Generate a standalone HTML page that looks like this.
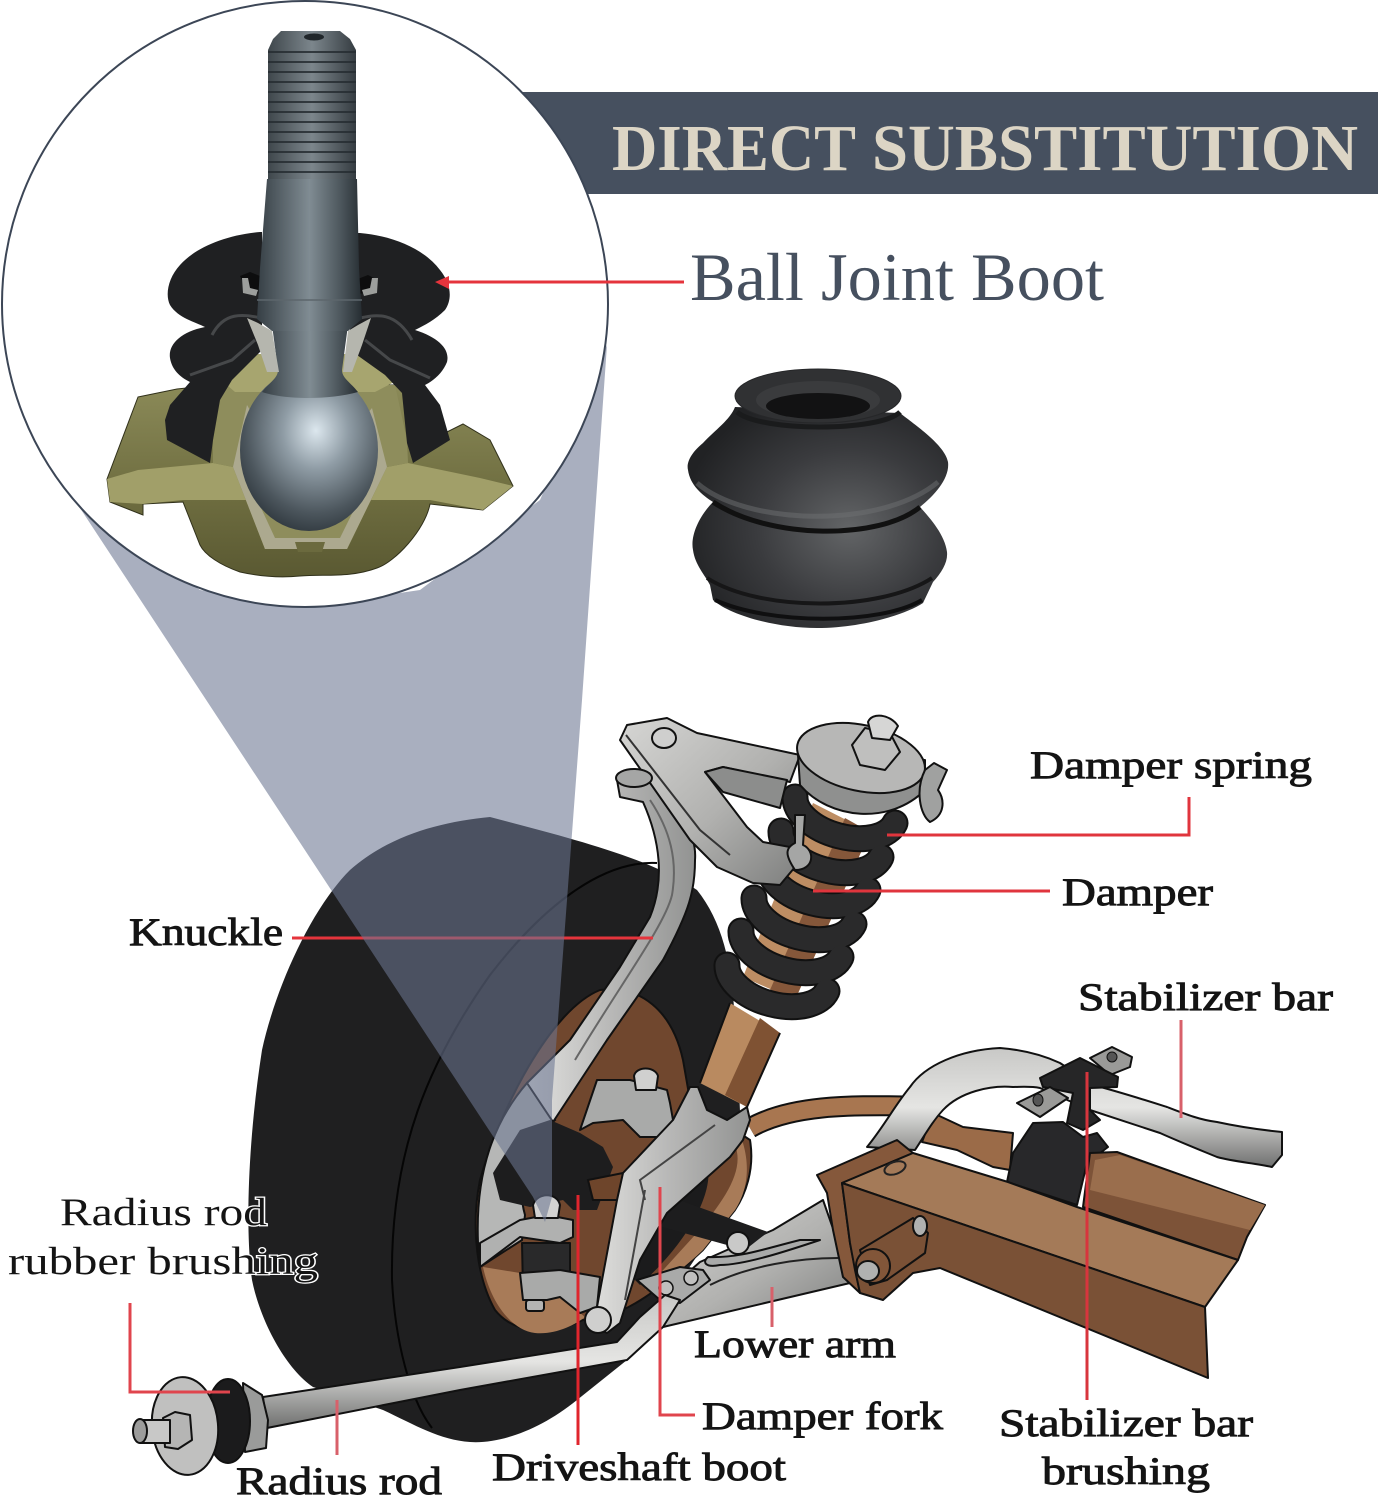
<!DOCTYPE html>
<html><head><meta charset="utf-8"><style>
html,body{margin:0;padding:0;background:#fff}
svg{display:block}
text{font-family:"Liberation Serif",serif}
.l{font-size:39px;fill:#141414;stroke:#141414;stroke-width:.9}
.h{font-size:39px;fill:#141414;stroke:#fff;stroke-width:2.5;paint-order:stroke}
.o{stroke:#111;stroke-width:2;stroke-linejoin:round}
</style></head><body>
<svg width="1378" height="1500" viewBox="0 0 1378 1500" xmlns="http://www.w3.org/2000/svg">
<defs>
<linearGradient id="st" x1="0" x2="1" y1="0" y2="0"><stop offset="0" stop-color="#363f45"/><stop offset=".5" stop-color="#808c93"/><stop offset=".8" stop-color="#4c565c"/><stop offset="1" stop-color="#262d32"/></linearGradient>
<linearGradient id="th" x1="0" x2="1" y1="0" y2="0"><stop offset="0" stop-color="#3f474c"/><stop offset=".5" stop-color="#7c868c"/><stop offset="1" stop-color="#353c41"/></linearGradient>
<radialGradient id="ball" cx=".55" cy=".38" r=".68"><stop offset="0" stop-color="#dce7ee"/><stop offset=".35" stop-color="#8f9ca5"/><stop offset=".75" stop-color="#4c565d"/><stop offset="1" stop-color="#2a3238"/></radialGradient>
<radialGradient id="boot" cx=".62" cy=".55" r=".65"><stop offset="0" stop-color="#636567"/><stop offset=".55" stop-color="#3a3b3e"/><stop offset="1" stop-color="#212224"/></radialGradient>
<linearGradient id="gold" x1="0" x2="0" y1="0" y2="1"><stop offset="0" stop-color="#8b8a58"/><stop offset=".6" stop-color="#6d6c3f"/><stop offset="1" stop-color="#5a5932"/></linearGradient>
<linearGradient id="sil" x1="0" x2="1" y1="0" y2="1"><stop offset="0" stop-color="#d6d6d4"/><stop offset=".55" stop-color="#b1b1af"/><stop offset="1" stop-color="#7e7f7e"/></linearGradient>
<linearGradient id="silv" x1="0" x2="1" y1="0" y2="0"><stop offset="0" stop-color="#e2e2e0"/><stop offset=".5" stop-color="#b8b8b7"/><stop offset="1" stop-color="#929392"/></linearGradient>
<linearGradient id="rod" x1="0" x2="0" y1="0" y2="1"><stop offset="0" stop-color="#c8c8c6"/><stop offset=".5" stop-color="#e5e5e3"/><stop offset="1" stop-color="#6f706f"/></linearGradient>
</defs>
<rect width="1378" height="1500" fill="#fff"/>

<!-- banner -->
<polygon points="522,92 1378,92 1378,194 587,194" fill="#46505f"/>
<text x="612" y="170" font-size="66" font-weight="bold" fill="#dcd5c5" textLength="244" lengthAdjust="spacingAndGlyphs">DIRECT</text>
<text x="872" y="170" font-size="66" font-weight="bold" fill="#dcd5c5" textLength="486" lengthAdjust="spacingAndGlyphs">SUBSTITUTION</text>

<!-- wheel -->
<path d="M490,817 C570,838 650,858 697,890 C725,925 735,975 735,1040 C740,1100 745,1160 735,1210 L703,1247 L627,1360 L577,1400 C540,1430 500,1444 470,1442 C440,1440 415,1425 383,1410 L313,1387 C285,1368 260,1320 252,1280 C245,1230 248,1140 262,1050 C275,990 310,910 350,870 C390,835 440,822 490,817Z" fill="#1f1f20"/>
<path d="M657,863 C600,860 540,910 490,975 C430,1060 390,1150 392,1280 C395,1340 410,1400 432,1428" fill="none" stroke="#050505" stroke-width="2"/>

<!-- hub -->
<path d="M600,990 C640,985 672,1010 683,1060 L690,1100 L750,1140 C755,1170 745,1195 735,1210 L703,1250 C660,1290 620,1320 583,1320 C550,1335 515,1335 495,1310 C478,1280 470,1230 480,1180 C500,1110 550,1010 600,990Z" fill="#70472e" stroke="#111" stroke-width="2"/>
<path d="M742,1140 C752,1170 745,1195 735,1210 L703,1250 C680,1272 660,1285 645,1290 L695,1235 C725,1200 745,1170 735,1145Z" fill="#a87b58"/>
<path d="M707,1163 C715,1190 690,1240 640,1285 L625,1270 L660,1190Z" fill="#1b1b1c"/>
<path d="M483,1267 C490,1300 510,1330 535,1333 C555,1335 575,1325 585,1317 L560,1297 L525,1300 L520,1273Z" fill="#a87b58"/>

<!-- silver rim -->
<path d="M527,1083 C495,1120 475,1170 478,1243 L480,1267 L522,1240 L525,1215 C515,1180 530,1140 555,1120Z" fill="#b6b7b6" stroke="#111" stroke-width="2"/>

<!-- knuckle -->
<path class="o" d="M617,780 C620,770 640,768 650,783 C680,805 697,835 695,860 C695,890 690,910 663,960 L607,1040 L553,1122 L527,1083 L570,1040 L620,967 L650,917 C665,880 660,840 643,802 L620,797Z" fill="url(#silv)"/>
<path d="M650,800 C670,830 678,860 672,895 C665,925 620,985 575,1060" fill="none" stroke="#666" stroke-width="2"/>

<!-- damper column -->
<polygon points="730,1003 780,1033 747,1107 700,1083" fill="#b98a60"/>
<polygon points="760,1018 780,1033 747,1107 725,1095" fill="#7f5233"/>
<path d="M730,1003 L700,1083 M780,1033 L747,1107" stroke="#111" stroke-width="2" fill="none"/>
<polygon points="813,803 870,832 795,1000 743,977" fill="#bd8d63"/>
<polygon points="845,818 870,832 795,1000 770,990" fill="#85573a"/>

<!-- spring -->
<g fill="none" stroke-linecap="round">
<g stroke="#111" stroke-width="27">
<path d="M795,797 A52 30 15 0 0 895,823"/>
<path d="M781,831 A52 30 15 0 0 881,857"/>
<path d="M768,864 A52 30 15 0 0 868,890"/>
<path d="M754,898 A52 30 15 0 0 854,924"/>
<path d="M741,931 A52 30 15 0 0 841,957"/>
<path d="M727,965 A52 30 15 0 0 827,991"/>
</g>
<g stroke="#2a2a2b" stroke-width="23">
<path d="M795,797 A52 30 15 0 0 895,823"/>
<path d="M781,831 A52 30 15 0 0 881,857"/>
<path d="M768,864 A52 30 15 0 0 868,890"/>
<path d="M754,898 A52 30 15 0 0 854,924"/>
<path d="M741,931 A52 30 15 0 0 841,957"/>
<path d="M727,965 A52 30 15 0 0 827,991"/>
</g>
</g>

<!-- upper arm -->
<path class="o" d="M620,740 L627,725 L667,718 L697,733 L800,755 L790,782 L723,767 L705,772 L747,827 L763,842 L790,847 L795,867 L780,885 L753,883 L717,867 L690,840Z" fill="url(#sil)"/>
<path d="M705,772 L723,792 L780,808 L787,780 L723,767Z" fill="#8c8d8c" class="o"/>
<path d="M626,735 L700,830 L730,855" fill="none" stroke="#333" stroke-width="2"/>
<ellipse cx="664" cy="738" rx="12" ry="10" fill="#cfcfce" stroke="#111" stroke-width="2"/>
<ellipse cx="634" cy="778" rx="18" ry="9" fill="#a5a6a5" stroke="#111" stroke-width="2"/>
<!-- bolt -->
<path class="o" d="M795,815 L805,815 L803,845 C815,850 815,870 795,870 C785,855 785,848 795,843Z" fill="#a5a6a5"/>
<!-- top mount -->
<path class="o" d="M798,755 L800,785 C830,820 890,825 925,790 L925,760Z" fill="#8f908f"/>
<ellipse cx="861" cy="758" rx="65" ry="33" transform="rotate(12 861 758)" fill="#b7b7b6" stroke="#111" stroke-width="2"/>
<path class="o" d="M852,745 L865,728 L890,733 L900,752 L885,770 L860,765Z" fill="#bfbfbe"/>
<path class="o" d="M868,722 C872,712 890,714 898,726 L890,740 L872,738Z" fill="#d6d6d5"/>
<path class="o" d="M925,770 L934,763 L947,770 L938,790 C945,800 945,815 930,822 C920,815 915,790 925,770Z" fill="#a0a1a0"/>

<!-- pipe -->
<path d="M750,1128 C790,1105 850,1105 905,1106" fill="none" stroke="#111" stroke-width="21"/>
<path d="M750,1128 C790,1105 850,1105 905,1106" fill="none" stroke="#a87650" stroke-width="17"/>

<!-- copper rod -->
<path class="o" d="M933,1113 L963,1127 L1013,1133 L1010,1170 L993,1167 L957,1150 L922,1142Z" fill="#9b6b48"/>
<!-- stabilizer bar -->
<path class="o" d="M867,1147 C885,1125 895,1105 910,1087 C925,1065 960,1050 1000,1048 C1025,1050 1045,1056 1060,1063 L1093,1085 C1120,1092 1145,1100 1167,1107 C1185,1114 1200,1120 1217,1122 C1240,1127 1262,1130 1282,1132 L1282,1155 L1272,1167 C1255,1163 1235,1162 1217,1157 C1200,1150 1180,1142 1160,1133 L1090,1110 L1040,1088 C1030,1086 1020,1087 1013,1087 C990,1085 960,1092 943,1110 C932,1122 925,1135 915,1150Z" fill="url(#rod)"/>
<!-- bush -->
<path class="o" d="M1013,1153 L1033,1123 L1063,1122 L1083,1137 L1097,1133 L1108,1147 L1087,1163 L1077,1205 L1007,1182Z" fill="#28282a"/>
<!-- bracket -->
<path class="o" d="M1090,1058 L1112,1047 L1132,1057 L1130,1067 L1110,1075Z" fill="#9a9a98"/>
<path class="o" d="M1040,1078 L1080,1058 L1118,1077 L1117,1087 L1090,1088 L1090,1110 L1100,1120 L1083,1130 L1067,1123 L1073,1093 L1043,1087Z" fill="#262627"/>
<path class="o" d="M1017,1103 L1050,1087 L1068,1098 L1040,1117Z" fill="#9a9a98"/>
<ellipse cx="1038" cy="1100" rx="5" ry="6" fill="#555" stroke="#111"/>
<ellipse cx="1112" cy="1057" rx="5" ry="5" fill="#555" stroke="#111"/>

<!-- lower arm -->
<path class="o" d="M663,1327 L850,1283 L845,1255 L837,1240 L823,1200 L773,1230 L727,1250 L700,1262 L660,1297Z" fill="url(#sil)"/>
<path d="M710,1285 C750,1265 800,1258 838,1258" fill="none" stroke="#222" stroke-width="2"/>
<path class="o" d="M708,1257 C740,1258 760,1250 800,1240 L820,1240 C790,1250 745,1265 720,1265 C705,1268 702,1262 708,1257Z" fill="#a9aaa9"/>
<!-- tie bar -->
<polygon points="665,1195 768,1232 745,1250 655,1225" fill="#1d1d1e"/>
<circle cx="738" cy="1243" r="11" fill="#c9c9c8" stroke="#111" stroke-width="2"/>
<path class="o" d="M637,1280 L680,1267 L703,1270 L710,1280 L680,1303 L660,1300Z" fill="#a9aaa9"/>
<circle cx="666" cy="1288" r="7" fill="#c0c0bf" stroke="#111" stroke-width="1.5"/>
<circle cx="691" cy="1278" r="7" fill="#c0c0bf" stroke="#111" stroke-width="1.5"/>

<!-- upper small arm -->
<path class="o" d="M580,1130 L597,1080 L630,1080 L667,1090 L670,1103 L673,1120 L667,1137 L640,1137 L623,1120 L593,1123Z" fill="#a9aaa9"/>
<path class="o" d="M634,1076 C636,1066 655,1066 658,1076 L656,1090 L636,1090Z" fill="#d0d0cf"/>

<!-- boot -->
<path d="M550,1120 L580,1133 L603,1147 L613,1167 L597,1210 L573,1210 L563,1200 L530,1207 L500,1200 L493,1173 L520,1130Z" fill="#1d1d1e"/>
<path d="M588,1180 L623,1173 L620,1200 L593,1200Z" fill="#6e452b" stroke="#111" stroke-width="2"/>
<!-- lower bracket -->
<path class="o" d="M522,1243 L570,1243 L570,1290 L523,1290Z" fill="#29292a"/>
<path class="o" d="M480,1243 L520,1220 L547,1215 L573,1220 L573,1237 L560,1243 L520,1237 L480,1267Z" fill="#b0b1b0"/>
<path class="o" d="M520,1273 L560,1270 L600,1277 L597,1307 L580,1313 L560,1297 L547,1300 L523,1300Z" fill="#a9aaa9"/>
<rect x="526" y="1300" width="18" height="11" rx="3" fill="#b4b4b3" stroke="#111" stroke-width="2"/>
<path class="o" d="M533,1205 C537,1192 557,1192 560,1205 L558,1218 L535,1218Z" fill="#d3d3d2"/>

<!-- radius rod -->
<path class="o" d="M263,1397 L460,1367 L617,1342 L640,1317 L665,1295 L680,1300 L663,1327 L627,1360 L460,1390 L267,1428Z" fill="url(#rod)"/>

<!-- damper fork -->
<path class="o" d="M690,1087 L698,1087 L707,1110 L727,1120 L747,1107 L750,1120 L743,1140 L730,1157 L667,1213 L640,1260 L620,1323 L607,1333 L587,1323 L597,1307 L617,1200 L623,1173 L673,1120Z" fill="url(#silv)"/>
<path d="M645,1200 L640,1180 L715,1125 M645,1190 L625,1300" fill="none" stroke="#444" stroke-width="2"/>
<circle cx="598" cy="1320" r="13" fill="#cfcfce" stroke="#111" stroke-width="2"/>

<!-- frame -->
<path class="o" d="M817,1175 L897,1140 L913,1153 L842,1183 L850,1243 L860,1293 L843,1277 L833,1230 L827,1193Z" fill="#85583b"/>
<path class="o" d="M1083,1207 L1090,1153 L1117,1152 L1265,1205 L1247,1237 L1238,1260Z" fill="#7d5338"/>
<path d="M1090,1190 L1095,1160 L1120,1155 L1265,1205 L1250,1230Z" fill="#9a6e4d"/>
<path class="o" d="M842,1183 L913,1153 L1008,1182 L1077,1207 L1238,1260 L1205,1307Z" fill="#a47a58"/>
<path class="o" d="M842,1183 L850,1243 L855,1270 L860,1293 L883,1300 L913,1273 L940,1268 L1208,1378 L1205,1307Z" fill="#7a5136"/>
<path class="o" d="M860,1250 L913,1218 L928,1233 L925,1253 L887,1280 L870,1285Z" fill="#7a5136"/>
<ellipse cx="920" cy="1226" rx="7" ry="10" fill="#b0b1b0" stroke="#111" stroke-width="2"/>
<ellipse cx="873" cy="1266" rx="17" ry="17" fill="#825639" stroke="#111" stroke-width="2"/>
<ellipse cx="868" cy="1271" rx="11" ry="10" fill="#b0b1b0" stroke="#111" stroke-width="2"/>
<ellipse cx="895" cy="1168" rx="11" ry="6" fill="none" stroke="#222" stroke-width="2" transform="rotate(-20 895 1168)"/>

<!-- radius rod end -->
<path class="o" d="M243,1383 L262,1395 L268,1420 L266,1448 L245,1452Z" fill="#9a9b9a"/>
<ellipse cx="228" cy="1421" rx="22" ry="42" fill="#1b1b1c" stroke="#111" stroke-width="2"/>
<ellipse cx="185" cy="1426" rx="33" ry="49" fill="#c0c0bf" stroke="#111" stroke-width="2" transform="rotate(-5 185 1426)"/>
<path class="o" d="M163,1418 L175,1412 L190,1415 L192,1440 L178,1449 L165,1447Z" fill="#b5b5b4"/>
<path class="o" d="M140,1420 L170,1420 L170,1443 L140,1443Z" fill="#c8c8c7"/>
<ellipse cx="140" cy="1431" rx="7" ry="12" fill="#9c9c9b" stroke="#111" stroke-width="2"/>

<!-- knuckle line under overlay -->
<path d="M292,938 H653" stroke="#e5343c" stroke-width="3" fill="none"/>

<!-- cone overlay -->
<polygon points="78,505 200,590 305,607 420,590 540,500 607,345 582,700 552,1100 552,1197 545,1222 533,1197" fill="#6a7690" fill-opacity=".58"/>

<!-- circle -->
<circle cx="305" cy="304" r="303" fill="#fff" stroke="#3c4656" stroke-width="2"/>

<!-- ball joint housing -->
<path d="M138,397 L177,389 L215,385 L400,385 L447,432 L463,424 L490,440 L513,486 L483,510 L430,504 C425,530 395,562 377,568 C350,578 325,574 300,576 C280,578 258,576 240,572 C220,565 205,555 200,545 L183,502 L143,504 L143,515 L110,502 L107,479Z" fill="url(#gold)" stroke="#30301a"/>
<path d="M107,479 L138,470 L213,463 L233,467 L265,549 L347,549 L387,467 L408,463 L480,478 L513,486 L483,510 L430,500 L183,500 L143,504 L110,502Z" fill="#a19f69"/>
<path d="M223,385 L213,440 L213,463 L233,467 L265,549 L347,549 L387,467 L408,463 L407,440 L395,385Z" fill="#8e8d5c"/>
<path d="M213,373 C235,355 250,354 262,354 L355,354 C375,355 395,365 402,378 L375,392 L235,392Z" fill="#a7a56f"/>
<!-- liner -->
<path d="M247,405 L233,467 L265,549 L347,549 L387,467 L372,408 L362,420 L375,467 L340,538 L275,538 L242,467 L256,420Z" fill="#aca98f"/>
<path d="M295,542 L325,542 L322,552 L298,552Z" fill="#6b6a3e"/>

<!-- boot section -->
<path d="M260,232 C225,235 195,248 180,265 C168,278 165,295 170,305 C178,318 195,322 205,327 C180,332 168,345 170,358 C172,370 180,377 190,382 L170,405 L165,420 L167,440 L210,463 L213,440 L220,400 L232,380 L262,350 L262,232Z" fill="#1f2022"/>
<path d="M360,233 C395,236 425,250 440,270 C452,285 452,300 445,310 C435,320 425,325 415,330 C440,338 450,350 447,362 C443,372 435,380 425,385 L440,405 L450,440 L413,463 L407,443 L402,393 L385,375 L350,350 L350,233Z" fill="#1f2022"/>
<path d="M212,335 C225,310 245,315 262,318 M412,340 C395,310 375,315 360,318 M190,375 L232,360 L255,340 M430,378 L390,360 L365,340" fill="none" stroke="#46484a" stroke-width="3"/>
<path d="M240,276 L250,272 L270,280 L270,296 L252,292 L246,288Z" fill="#0d0d0e"/>
<path d="M378,280 L368,275 L350,282 L350,296 L368,292 L375,288Z" fill="#0d0d0e"/>
<path d="M242,278 L248,278 L250,288 L258,290 L256,296 L243,293Z" fill="#9c9e9c"/>
<path d="M378,278 L372,278 L370,288 L362,290 L364,296 L377,293Z" fill="#9c9e9c"/>

<!-- ball + stud -->
<ellipse cx="309" cy="450" rx="69" ry="81" fill="url(#ball)"/>
<path d="M272,325 L348,325 L342,370 C342,378 350,382 358,392 C330,400 285,400 262,392 C270,382 278,378 278,370Z" fill="url(#st)"/>
<path d="M267,179 L357,179 L359,268 L362,319 L348,331 L272,331 L257,319 L260,268Z" fill="url(#st)"/>
<path d="M257,300 L362,300" stroke="#5d666c" stroke-width="1.5"/>
<path d="M273,39 L281,31 L340,31 L350,39 L356,50 L356,179 L268,179 L268,50Z" fill="url(#th)"/>
<g stroke="#262d32" stroke-width="2" opacity=".85">
<line x1="268" y1="52" x2="356" y2="52"/><line x1="268" y1="62" x2="356" y2="62"/><line x1="268" y1="72" x2="356" y2="72"/><line x1="268" y1="82" x2="356" y2="82"/><line x1="268" y1="92" x2="356" y2="92"/><line x1="268" y1="102" x2="356" y2="102"/><line x1="268" y1="112" x2="356" y2="112"/><line x1="268" y1="122" x2="356" y2="122"/><line x1="268" y1="132" x2="356" y2="132"/><line x1="268" y1="142" x2="356" y2="142"/><line x1="268" y1="152" x2="356" y2="152"/><line x1="268" y1="162" x2="356" y2="162"/><line x1="268" y1="172" x2="356" y2="172"/>
</g>
<ellipse cx="314" cy="37" rx="10" ry="3.5" fill="#20262a"/>
<path d="M247,318 L258,323 L272,331 L279,372 L267,372 L258,345Z" fill="#b5b6ae"/>
<path d="M371,318 L358,325 L348,331 L343,372 L352,372 L362,345Z" fill="#b5b6ae"/>

<!-- ball joint label -->
<polygon points="435,282 449,276 449,289" fill="#e5343c"/>
<line x1="447" y1="282" x2="684" y2="282" stroke="#e5343c" stroke-width="3"/>
<text x="690" y="300" font-size="68" fill="#46505f" textLength="414" lengthAdjust="spacingAndGlyphs">Ball Joint Boot</text>

<!-- loose boot -->
<path d="M735,407 C730,420 715,430 703,443 C692,452 686,462 688,470 C690,485 702,495 713,502 C700,515 690,535 693,550 C695,565 705,575 710,585 L713,600 C730,615 775,628 817,628 C860,628 905,615 923,603 L933,582 C942,572 948,562 947,552 C945,535 930,518 920,507 C935,495 950,478 948,462 C945,445 915,425 900,413Z" fill="url(#boot)"/>
<ellipse cx="818" cy="396" rx="83" ry="27" fill="#303133" stroke="#262729" stroke-width="1"/>
<path d="M737,412 C760,432 880,432 900,412" fill="none" stroke="#1a1b1c" stroke-width="5"/>
<ellipse cx="818" cy="400" rx="62" ry="19" fill="#3a3b3d"/>
<ellipse cx="818" cy="406" rx="52" ry="13" fill="#121213"/>
<path d="M697,483 C745,525 880,530 938,482" fill="none" stroke="#6d6f71" stroke-width="5" opacity=".5"/>
<path d="M713,502 C770,540 880,540 920,507" fill="none" stroke="#111" stroke-width="5"/>
<path d="M707,578 C760,612 880,612 932,578" fill="none" stroke="#161617" stroke-width="4"/>
<path d="M715,600 C770,625 880,625 922,600" fill="none" stroke="#0f0f10" stroke-width="4"/>

<!-- leader lines -->
<g fill="none" stroke-width="3">
<path d="M887,835 H1189 V797" stroke="#e0353d"/>
<path d="M813,891 H1050" stroke="#e0353d"/>
<path d="M1181,1020 V1118" stroke="#d8606a"/>
<path d="M1087,1072 V1400" stroke="#d8353d"/>
<path d="M772,1287 V1327" stroke="#d8606a"/>
<path d="M660,1187 V1415 H695" stroke="#e0454d"/>
<path d="M578,1195 V1445" stroke="#e0252d"/>
<path d="M337,1400 V1455" stroke="#d8606a"/>
<path d="M130,1303 V1392 H230" stroke="#e0454d"/>
</g>

<!-- labels -->
<text class="l" x="1030" y="778" textLength="282" lengthAdjust="spacingAndGlyphs">Damper spring</text>
<text class="l" x="1062" y="905" textLength="151" lengthAdjust="spacingAndGlyphs">Damper</text>
<text class="l" x="129" y="945" textLength="154" lengthAdjust="spacingAndGlyphs">Knuckle</text>
<text class="l" x="1078" y="1010" textLength="255" lengthAdjust="spacingAndGlyphs">Stabilizer bar</text>
<text class="h" x="60" y="1225" textLength="207" lengthAdjust="spacingAndGlyphs">Radius rod</text>
<text class="h" x="8" y="1274" textLength="310" lengthAdjust="spacingAndGlyphs">rubber brushing</text>
<text class="l" x="694" y="1357" textLength="202" lengthAdjust="spacingAndGlyphs">Lower arm</text>
<text class="l" x="702" y="1429" textLength="241" lengthAdjust="spacingAndGlyphs">Damper fork</text>
<text class="l" x="999" y="1436" textLength="254" lengthAdjust="spacingAndGlyphs">Stabilizer bar</text>
<text class="l" x="1042" y="1484" textLength="168" lengthAdjust="spacingAndGlyphs">brushing</text>
<text class="l" x="492" y="1480" textLength="294" lengthAdjust="spacingAndGlyphs">Driveshaft boot</text>
<text class="l" x="236" y="1494" textLength="206" lengthAdjust="spacingAndGlyphs">Radius rod</text>
</svg>
</body></html>
